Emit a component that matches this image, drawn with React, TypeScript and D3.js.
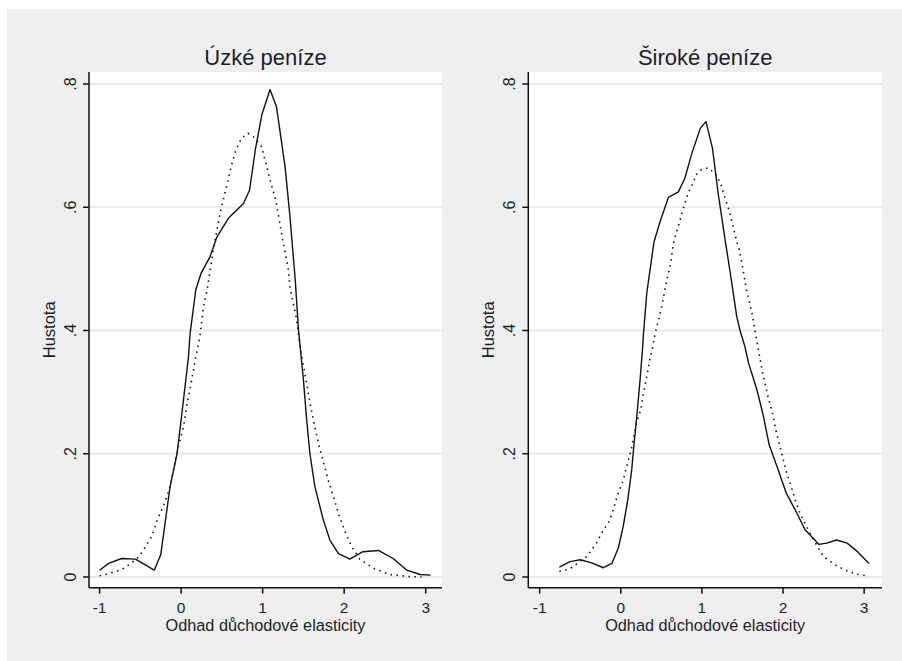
import React from "react";
import * as d3 from "d3";

// ---------- data ----------
const xTicks = [-1, 0, 1, 2, 3];
const yTicks = [0, 0.2, 0.4, 0.6, 0.8];
const yTickLabels = ["0", ".2", ".4", ".6", ".8"];
const panelTitles = ["Úzké peníze", "Široké peníze"];
const xAxisTitle = "Odhad důchodové elasticity";
const yAxisTitle = "Hustota";

// Úzké peníze – kernel density (solid)
const narrowKernelX = [-1.0, -0.89, -0.73, -0.56, -0.33, -0.25, -0.135, -0.05, 0.01, 0.09, 0.11, 0.18, 0.245, 0.355, 0.44, 0.58, 0.765, 0.84, 0.91, 0.99, 1.09, 1.17, 1.275, 1.335, 1.4, 1.44, 1.5, 1.54, 1.58, 1.64, 1.745, 1.825, 1.93, 2.07, 2.23, 2.42, 2.6, 2.77, 2.93, 3.06];
const narrowKernelY = [0.011, 0.022, 0.03, 0.029, 0.011, 0.036, 0.147, 0.2, 0.266, 0.357, 0.395, 0.466, 0.493, 0.52, 0.552, 0.582, 0.606, 0.628, 0.693, 0.75, 0.791, 0.763, 0.666, 0.585, 0.482, 0.4, 0.32, 0.255, 0.2, 0.147, 0.092, 0.06, 0.038, 0.029, 0.041, 0.043, 0.03, 0.011, 0.004, 0.003];

// Úzké peníze – normal density (dotted)
const narrowNormalX = [-1.0, -0.93, -0.75, -0.69, -0.54, -0.46, -0.36, -0.3, -0.196, -0.135, -0.03, 0.03, 0.07, 0.13, 0.17, 0.23, 0.275, 0.315, 0.364, 0.4, 0.44, 0.47, 0.52, 0.57, 0.62, 0.67, 0.74, 0.82, 0.9, 0.99, 1.02, 1.05, 1.1, 1.16, 1.205, 1.245, 1.31, 1.335, 1.41, 1.48, 1.54, 1.59, 1.64, 1.695, 1.75, 1.805, 1.87, 1.93, 2.01, 2.09, 2.19, 2.36, 2.56, 2.81, 2.95];
const narrowNormalY = [0.002, 0.004, 0.011, 0.015, 0.03, 0.044, 0.066, 0.09, 0.122, 0.147, 0.214, 0.244, 0.279, 0.32, 0.35, 0.39, 0.439, 0.463, 0.504, 0.536, 0.563, 0.585, 0.614, 0.641, 0.669, 0.692, 0.712, 0.72, 0.713, 0.698, 0.681, 0.666, 0.64, 0.612, 0.579, 0.547, 0.504, 0.471, 0.422, 0.357, 0.314, 0.276, 0.244, 0.211, 0.184, 0.157, 0.13, 0.103, 0.074, 0.05, 0.029, 0.014, 0.004, 0.0005, 0.0];

// Široké peníze – kernel density (solid)
const broadKernelX = [-0.757, -0.625, -0.5, -0.358, -0.215, -0.11, -0.03, 0.03, 0.086, 0.135, 0.164, 0.197, 0.238, 0.27, 0.28, 0.32, 0.36, 0.41, 0.485, 0.587, 0.71, 0.79, 0.875, 0.98, 1.05, 1.13, 1.2, 1.286, 1.35, 1.43, 1.47, 1.53, 1.575, 1.68, 1.76, 1.83, 1.94, 2.04, 2.15, 2.27, 2.44, 2.54, 2.66, 2.79, 2.91, 3.06];
const broadKernelY = [0.016, 0.025, 0.028, 0.023, 0.015, 0.022, 0.047, 0.082, 0.125, 0.174, 0.217, 0.26, 0.32, 0.374, 0.395, 0.46, 0.498, 0.544, 0.577, 0.616, 0.625, 0.647, 0.687, 0.728, 0.739, 0.696, 0.623, 0.547, 0.493, 0.422, 0.4, 0.374, 0.347, 0.303, 0.26, 0.214, 0.174, 0.136, 0.109, 0.077, 0.053, 0.055, 0.06, 0.055, 0.042, 0.022];

// Široké peníze – normal density (dotted)
const broadNormalX = [-0.757, -0.63, -0.42, -0.3, -0.215, -0.14, -0.1, -0.04, 0.025, 0.074, 0.127, 0.197, 0.246, 0.28, 0.32, 0.36, 0.395, 0.42, 0.46, 0.505, 0.567, 0.61, 0.657, 0.72, 0.77, 0.83, 0.89, 0.93, 0.98, 1.08, 1.18, 1.235, 1.265, 1.34, 1.39, 1.43, 1.46, 1.5, 1.55, 1.61, 1.66, 1.7, 1.75, 1.81, 1.875, 1.915, 1.985, 2.04, 2.1, 2.15, 2.21, 2.29, 2.4, 2.5, 2.66, 2.79, 2.93, 3.05];
const broadNormalY = [0.009, 0.013, 0.033, 0.055, 0.076, 0.091, 0.106, 0.133, 0.155, 0.18, 0.206, 0.252, 0.271, 0.298, 0.325, 0.355, 0.374, 0.393, 0.414, 0.439, 0.482, 0.506, 0.547, 0.574, 0.598, 0.623, 0.639, 0.653, 0.66, 0.664, 0.652, 0.637, 0.623, 0.593, 0.566, 0.544, 0.531, 0.504, 0.466, 0.433, 0.396, 0.366, 0.33, 0.295, 0.263, 0.236, 0.2, 0.171, 0.147, 0.125, 0.103, 0.082, 0.055, 0.033, 0.018, 0.01, 0.004, 0.0015];

// ---------- layout ----------
const W = 902;
const H = 661;
const FONT = "'Liberation Sans', Arial, Helvetica, sans-serif";
const TEXT = "#1b1f2a";
const PLOT_TOP = 72;
const PLOT_BOTTOM = 587.7;
const Y_DOMAIN: [number, number] = [-0.0174, 0.8195];

type PanelSpec = {
  title: string;
  left: number;
  right: number;
  xDomain: [number, number];
  kx: number[];
  ky: number[];
  nx: number[];
  ny: number[];
};

const panels: PanelSpec[] = [
  { title: panelTitles[0], left: 89, right: 442, xDomain: [-1.13, 3.2], kx: narrowKernelX, ky: narrowKernelY, nx: narrowNormalX, ny: narrowNormalY },
  { title: panelTitles[1], left: 528.3, right: 882, xDomain: [-1.14, 3.22], kx: broadKernelX, ky: broadKernelY, nx: broadNormalX, ny: broadNormalY },
];

function Panel({ p }: { p: PanelSpec }) {
  const x = d3.scaleLinear().domain(p.xDomain).range([p.left, p.right]);
  const y = d3.scaleLinear().domain(Y_DOMAIN).range([PLOT_BOTTOM, PLOT_TOP]);
  const line = d3
    .line<[number, number]>()
    .x((d) => x(d[0]))
    .y((d) => y(d[1]));
  const kernel = line(p.kx.map((v, i) => [v, p.ky[i]] as [number, number])) || "";
  const normal = line(p.nx.map((v, i) => [v, p.ny[i]] as [number, number])) || "";
  const cx = (p.left + p.right) / 2;
  const midY = (PLOT_TOP + PLOT_BOTTOM) / 2;
  return (
    <g>
      <rect x={p.left} y={PLOT_TOP} width={p.right - p.left} height={PLOT_BOTTOM - PLOT_TOP} fill="#ffffff" />
      {yTicks.map((t) => (
        <line key={"g" + t} x1={p.left} x2={p.right} y1={y(t)} y2={y(t)} stroke="#eaeaea" strokeWidth={2} />
      ))}
      <path d={normal} fill="none" stroke="#111" strokeWidth={1.6} strokeDasharray="1.5 4.5" />
      <path d={kernel} fill="none" stroke="#111" strokeWidth={1.4} strokeLinejoin="round" />
      {/* axes */}
      <line x1={p.left} x2={p.left} y1={PLOT_TOP} y2={PLOT_BOTTOM} stroke="#111" strokeWidth={1.5} />
      <line x1={p.left} x2={p.right} y1={PLOT_BOTTOM} y2={PLOT_BOTTOM} stroke="#111" strokeWidth={1.5} />
      {yTicks.map((t, i) => (
        <g key={"y" + t}>
          <line x1={p.left - 6} x2={p.left} y1={y(t)} y2={y(t)} stroke="#111" strokeWidth={1.5} />
          <text
            transform={`translate(${p.left - 13.5},${y(t)}) rotate(-90)`}
            textAnchor="middle"
            fontFamily={FONT}
            fontSize={16}
            fill={TEXT}
          >
            {yTickLabels[i]}
          </text>
        </g>
      ))}
      {xTicks.map((t) => (
        <g key={"x" + t}>
          <line x1={x(t)} x2={x(t)} y1={PLOT_BOTTOM} y2={PLOT_BOTTOM + 6} stroke="#111" strokeWidth={1.5} />
          <text x={x(t)} y={612.5} textAnchor="middle" fontFamily={FONT} fontSize={15.5} fill={TEXT}>
            {t}
          </text>
        </g>
      ))}
      <text x={cx} y={631} textAnchor="middle" fontFamily={FONT} fontSize={16.3} fill={TEXT}>
        {xAxisTitle}
      </text>
      <text
        transform={`translate(${p.left - 34.5},${midY}) rotate(-90)`}
        textAnchor="middle"
        fontFamily={FONT}
        fontSize={16.5}
        fill={TEXT}
      >
        {yAxisTitle}
      </text>
      <text x={cx} y={65} textAnchor="middle" fontFamily={FONT} fontSize={22} fill={TEXT}>
        {p.title}
      </text>
    </g>
  );
}

export default function App() {
  return (
    <svg
      width={W}
      height={H}
      viewBox={`0 0 ${W} ${H}`}
      style={{ position: "absolute", left: 0, top: 0, display: "block" }}
    >
      <rect x={0} y={0} width={W} height={H} fill="#ffffff" />
      <rect x={7} y={9} width={W - 7} height={H - 9} fill="#efefef" />
      {panels.map((p) => (
        <Panel key={p.title} p={p} />
      ))}
    </svg>
  );
}
